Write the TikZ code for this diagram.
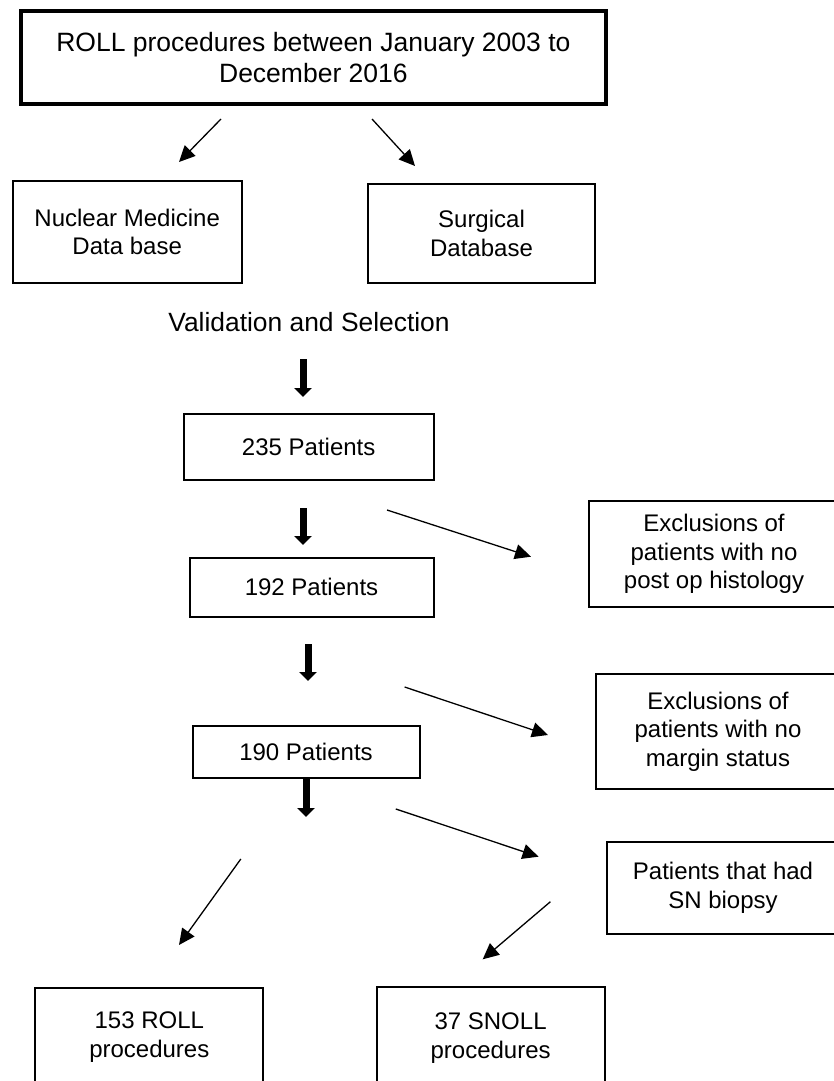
\documentclass[tikz,border=0pt]{standalone}
\usepackage{fontspec}
\setmainfont{Liberation Sans}
\usetikzlibrary{arrows.meta}
\begin{document}
\begin{tikzpicture}[x=1pt,y=-1pt,
  box/.style={draw, line width=2pt, inner sep=0pt, align=center,
    font=\fontsize{24}{28.5}\selectfont},
  opentext/.style={inner sep=0pt, align=center,
    font=\fontsize{24}{28.5}\selectfont},
  boxline/.style={draw, line width=2pt},
  thinarrow/.style={line width=1.3pt, -{Triangle[length=16pt,width=15pt]}},
  fatarrow/.style={line width=7pt, -{Triangle[length=9pt,width=17pt]}}]
\useasboundingbox (0,0) rectangle (834,1081);
% boxes
\node[box, line width=4pt, minimum width=585pt, minimum height=93pt,
  font=\fontsize{26.5}{31}\selectfont] (title) at (313.4,57.7)
  {ROLL procedures between January 2003 to\\December 2016};
\node[box, minimum width=229pt, minimum height=102pt] (nuc) at (127.2,232)
  {Nuclear Medicine\\Data base};
\node[box, minimum width=227pt, minimum height=99pt] (surg) at (481.5,233.5)
  {Surgical\\Database};
\node[inner sep=0pt, font=\fontsize{26.4}{31}\selectfont] (valid) at (309,322)
  {Validation and Selection};
\node[box, minimum width=250pt, minimum height=66pt] (p235) at (308.7,447)
  {235 Patients};
\node[box, minimum width=244pt, minimum height=59pt] (p192) at (311.5,587.3)
  {192 Patients};
\node[box, minimum width=227pt, minimum height=52pt] (p190) at (306,752)
  {190 Patients};
% boxes running off the right edge
\node[opentext] (excl1) at (714,554)
  {Exclusions of\\patients with no\\post op histology};
\draw[boxline] (excl1.center) ++(-125,-53) rectangle ++(280,106);
\node[opentext] (excl2) at (718,731.5)
  {Exclusions of\\patients with no\\margin status};
\draw[boxline] (excl2.center) ++(-122,-57.5) rectangle ++(280,115);
\node[opentext] (sn) at (723,888)
  {Patients that had\\SN biopsy};
\draw[boxline] (sn.center) ++(-116.5,-46) rectangle ++(280,92);
% boxes running off the bottom edge
\node[box, minimum width=228pt, minimum height=98pt] (roll) at (149.3,1037)
  {153 ROLL\\procedures};
\node[box, minimum width=228pt, minimum height=102pt] (snoll) at (490.6,1038)
  {37 SNOLL\\procedures};
% connector end points
\coordinate (a1s) at (221,119);   \coordinate (a1e) at (179,162);
\coordinate (a2s) at (372,119);   \coordinate (a2e) at (415,166);
\coordinate (a3s) at (387,510);   \coordinate (a3e) at (531,556.7);
\coordinate (a4s) at (404.6,687); \coordinate (a4e) at (548,735);
\coordinate (a5s) at (395.8,809); \coordinate (a5e) at (538.6,856.7);
\coordinate (a6s) at (240.8,859); \coordinate (a6e) at (179,945);
\coordinate (a7s) at (550.4,901.7); \coordinate (a7e) at (482.7,959.3);
\coordinate (f1s) at (303,359);   \coordinate (f1e) at (303,397);
\coordinate (f2s) at (303,508);   \coordinate (f2e) at (303,545);
\coordinate (f3s) at (308,644);   \coordinate (f3e) at (308,681);
% thin arrows
\draw[thinarrow] (a1s) -- (a1e);
\draw[thinarrow] (a2s) -- (a2e);
\draw[thinarrow] (a3s) -- (a3e);
\draw[thinarrow] (a4s) -- (a4e);
\draw[thinarrow] (a5s) -- (a5e);
\draw[thinarrow] (a6s) -- (a6e);
\draw[thinarrow] (a7s) -- (a7e);
% thick arrows
\draw[fatarrow] (f1s) -- (f1e);
\draw[fatarrow] (f2s) -- (f2e);
\draw[fatarrow] (f3s) -- (f3e);
\draw[fatarrow] (p190.south) -- ++(0,38);
\end{tikzpicture}
\end{document}
